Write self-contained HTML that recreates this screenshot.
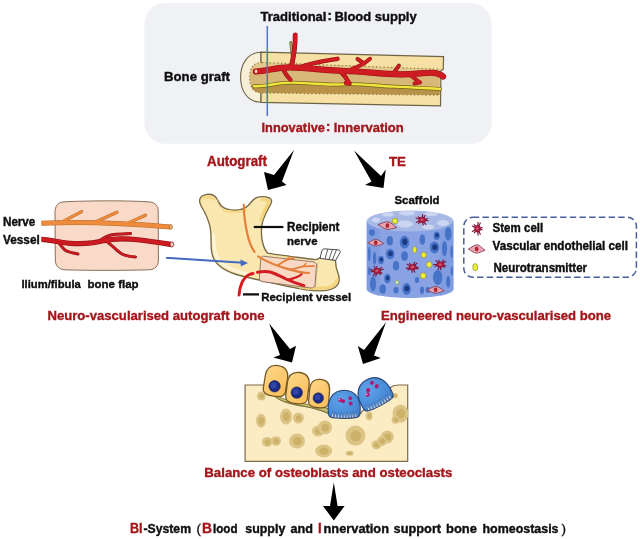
<!DOCTYPE html>
<html><head><meta charset="utf-8">
<style>
html,body{margin:0;padding:0;background:#fff;}
body{width:640px;height:539px;overflow:hidden;}
svg{display:block;}
text{font-family:"Liberation Sans",sans-serif;font-weight:bold;}
.k{fill:#0a0a0a;stroke:#0a0a0a;stroke-width:0.35px;}
.r{fill:#a4141a;stroke:#a4141a;stroke-width:0.35px;}
</style></head><body>
<svg width="640" height="539" viewBox="0 0 640 539">
<defs>
<filter id="soft" x="-5%" y="-5%" width="110%" height="110%"><feGaussianBlur stdDeviation="0.45"/></filter>
<filter id="sp" x="-30%" y="-30%" width="160%" height="160%"><feGaussianBlur stdDeviation="0.65"/></filter>
</defs>
<rect width="640" height="539" fill="#ffffff"/>
<!-- TOPBOX -->
<rect x="144.6" y="3" width="346.8" height="140.8" rx="21" ry="21" fill="#f0f1f5" stroke="#f6f6f9" stroke-width="1" filter="url(#soft)"/>
<g filter="url(#soft)">
<!-- TEXTS -->
<text class="k" x="260.5" y="20.5" font-size="13.45" textLength="66" lengthAdjust="spacingAndGlyphs">Traditional</text>
<text class="k" x="327.6" y="20" font-size="13">:</text>
<text class="k" x="334.4" y="20.5" font-size="13.39" textLength="82.3" lengthAdjust="spacingAndGlyphs">Blood supply</text>
<text class="k" x="164" y="80.5" font-size="13.60" textLength="66" lengthAdjust="spacingAndGlyphs">Bone graft</text>
<text class="r" x="261.5" y="131.8" font-size="13.23" textLength="63.5" lengthAdjust="spacingAndGlyphs">Innovative</text>
<text class="r" x="326" y="131.3" font-size="13">:</text>
<text class="r" x="333.7" y="131.8" font-size="13.38" textLength="70" lengthAdjust="spacingAndGlyphs">Innervation</text>
<text class="r" x="207" y="165.5" font-size="13.74" textLength="60" lengthAdjust="spacingAndGlyphs">Autograft</text>
<text class="r" x="389" y="165.5" font-size="13.70" textLength="17" lengthAdjust="spacingAndGlyphs">TE</text>
<text class="k" x="3" y="226.2" font-size="11.97" textLength="32.3" lengthAdjust="spacingAndGlyphs">Nerve</text>
<text class="k" x="3" y="244.4" font-size="12.17" textLength="36.8" lengthAdjust="spacingAndGlyphs">Vessel</text>
<text class="k" x="21.4" y="288.2" font-size="11.59" textLength="59.4" lengthAdjust="spacingAndGlyphs">Ilium/fibula</text>
<text class="k" x="87.6" y="288.2" font-size="11.82" textLength="51" lengthAdjust="spacingAndGlyphs">bone flap</text>
<text class="r" x="47.5" y="319.6" font-size="13.50" textLength="217" lengthAdjust="spacingAndGlyphs">Neuro-vascularised autograft bone</text>
<text class="k" x="287" y="231.2" font-size="12.01" textLength="52.5" lengthAdjust="spacingAndGlyphs">Recipient</text>
<text class="k" x="287" y="245" font-size="11.77" textLength="30.5" lengthAdjust="spacingAndGlyphs">nerve</text>
<text class="k" x="261.2" y="300.6" font-size="11.83" textLength="90" lengthAdjust="spacingAndGlyphs">Recipient vessel</text>
<text class="k" x="394.4" y="204.3" font-size="11.80" textLength="45.2" lengthAdjust="spacingAndGlyphs">Scaffold</text>
<text class="k" x="492.6" y="232" font-size="11.87" textLength="50.6" lengthAdjust="spacingAndGlyphs">Stem cell</text>
<text class="k" x="492.6" y="250.3" font-size="12.00" textLength="135.3" lengthAdjust="spacingAndGlyphs">Vascular endothelial cell</text>
<text class="k" x="493.5" y="272" font-size="11.88" textLength="93.6" lengthAdjust="spacingAndGlyphs">Neurotransmitter</text>
<text class="r" x="381" y="319.6" font-size="13.49" textLength="230" lengthAdjust="spacingAndGlyphs">Engineered neuro-vascularised bone</text>
<text class="r" x="204.3" y="477" font-size="13.64" textLength="248" lengthAdjust="spacingAndGlyphs">Balance of osteoblasts and osteoclasts</text>
<text class="r" x="130" y="533.3" font-size="15.00" textLength="12.5" lengthAdjust="spacingAndGlyphs">BI</text>
<text class="k" x="143.5" y="533" font-size="12.58" textLength="47.5" lengthAdjust="spacingAndGlyphs">-System</text>
<text class="k" x="196.5" y="532.5" font-size="13" font-weight="normal" style="font-weight:normal">(</text>
<text class="r" x="202" y="533.3" font-size="15.00" textLength="10" lengthAdjust="spacingAndGlyphs">B</text>
<text class="k" x="213" y="533" font-size="11.96" textLength="24.5" lengthAdjust="spacingAndGlyphs">lood</text>
<text class="k" x="245.3" y="533" font-size="12.79" textLength="40" lengthAdjust="spacingAndGlyphs">supply</text>
<text class="k" x="290.5" y="533" font-size="13.04" textLength="22.5" lengthAdjust="spacingAndGlyphs">and</text>
<text class="r" x="318" y="533.3" font-size="15.00" textLength="3.6" lengthAdjust="spacingAndGlyphs">I</text>
<text class="k" x="323.5" y="533" font-size="13.20" textLength="65.5" lengthAdjust="spacingAndGlyphs">nnervation</text>
<text class="k" x="393.6" y="533" font-size="13.15" textLength="47.5" lengthAdjust="spacingAndGlyphs">support</text>
<text class="k" x="446" y="533" font-size="13.37" textLength="31" lengthAdjust="spacingAndGlyphs">bone</text>
<text class="k" x="482.5" y="533" font-size="12.81" textLength="76" lengthAdjust="spacingAndGlyphs">homeostasis</text>
<text class="k" x="561.5" y="533" font-size="13.5" style="font-weight:normal">)</text>
</g>
<!-- ARROWS -->
<g fill="#050505" filter="url(#soft)">
<path d="M294,150 L274,175 L264,172 L268,190 L286.5,185 L282,181.5 Z"/>
<path d="M354,150.5 L381,176 L385.7,169.5 L383.5,188 L365,185 L371.5,181.5 Z"/>
<path d="M269.2,323.5 L290,349 L296,345.8 L292,362.5 L273.4,357.5 L280,355 Z"/>
<path d="M386,322.3 L364,350 L357.8,346 L363,364 L380.8,358 L374,355.6 Z"/>
<path d="M333.8,482.5 L337.6,506 L344.6,506 L333.8,520.5 L323,506 L330,506 Z"/>
</g>
<!-- BONEGRAFT -->
<g filter="url(#soft)">
<!-- outer cap -->
<path d="M261,52.2 C246,52.5 240.6,66 240.6,77.5 C240.6,90 247,102 261,102.3 Z" fill="#f8efd8" stroke="#6e6446" stroke-width="1.1"/>
<!-- shell rectangle -->
<path d="M261,52.2 L443.6,56.6 L443.2,69.5 L441,70.5 L440.5,105.8 L261,102.3 Z" fill="#f6e0a4" stroke="#6e6446" stroke-width="1.2"/>
<!-- marrow -->
<path d="M262,62.5 C252,62.5 249.5,70 249.5,77.5 C249.5,86 253,92.5 262,92.8 L439.5,95 L440,69.2 Z" fill="#d8b878"/>
<path d="M262,84 C300,80 340,86 380,86 L440,89 L439.5,95 L262,92.8 C255,92.8 252,90 251,86 Z" fill="#b8924a"/>
<path d="M262,62.5 L440,69.2 L440,73 C400,70 340,69 300,70 C280,71 262,69 253,68 C255,64 258,62.5 262,62.5Z" fill="#e3c88d"/>
<!-- speckle edges -->
<path d="M262,62.5 L440,69.2" stroke="#8a7540" stroke-width="1.2" stroke-dasharray="1.2 2.6" fill="none"/>
<path d="M262,93 L439.5,95.2" stroke="#8a7540" stroke-width="1.2" stroke-dasharray="1.2 2.6" fill="none"/>
<path d="M262,62.5 C252,62.5 249.5,70 249.5,77.5 C249.5,86 253,92.5 262,92.8" stroke="#8a7540" stroke-width="1.2" stroke-dasharray="1 2.4" fill="none"/>
<!-- olive vein -->
<path d="M290.8,42.5 C291.6,50 292.2,56 293.2,63" stroke="#6e6438" stroke-width="3" fill="none" stroke-linecap="round"/><path d="M290.8,42.5 C291.6,50 292.2,56 293.2,63" stroke="#a89a62" stroke-width="1.8" fill="none" stroke-linecap="round"/>
<!-- yellow nerve -->
<path d="M254,86.2 C268,87 275,82.6 290,82.6 C310,82.8 330,85.2 343,84.4 C360,83 375,86 395,86.6 C410,87 428,88.5 440,89" stroke="#6e6418" stroke-width="3.8" fill="none" stroke-linecap="round"/>
<path d="M254,86.2 C268,87 275,82.6 290,82.6 C310,82.8 330,85.2 343,84.4 C360,83 375,86 395,86.6 C410,87 428,88.5 440,89" stroke="#f3e53c" stroke-width="2.4" fill="none" stroke-linecap="round"/>
<!-- red vessels -->
<g fill="none" stroke-linecap="round" stroke-linejoin="round">
<path d="M256,71.5 C268,71 276,67.2 290,67.4 C310,68 325,70.5 345,71 C365,71.5 380,74 400,74.3 C415,74.6 425,72.2 433,72.8 C438,73.2 441,74.6 443,76.5" stroke="#8f1216" stroke-width="6.2"/>
<path d="M291.5,66 C294,55 295.4,45 295.2,34.8" stroke="#8f1216" stroke-width="4.8"/>
<path d="M300,67.5 C310,62.8 322,61.5 337.5,58.8" stroke="#8f1216" stroke-width="4.4"/>
<path d="M283.5,70 C285.5,74 288,77.5 290.5,79.8" stroke="#8f1216" stroke-width="4.2"/>
<path d="M352,69 C358,67.2 362,64.2 365,62.8 L370,58.8 M364,63.5 L357.5,59" stroke="#8f1216" stroke-width="4.0"/>
<path d="M394,72.5 C396,69.5 397.5,67.5 399,65.5" stroke="#8f1216" stroke-width="3.8"/>
<path d="M341,71.5 C344,75 347,79 349.5,83.5 M349.5,83.5 L346,83" stroke="#8f1216" stroke-width="4.4"/>
<path d="M411,75.5 C414,78 417,80.5 420,82.5 M419,82.5 L414.5,83.5" stroke="#8f1216" stroke-width="4.0"/>
<path d="M338,70 C342,73 344,75 346,78" stroke="#8f1216" stroke-width="4.0"/>
<path d="M256,71.5 C268,71 276,67.2 290,67.4 C310,68 325,70.5 345,71 C365,71.5 380,74 400,74.3 C415,74.6 425,72.2 433,72.8 C438,73.2 441,74.6 443,76.5" stroke="#cf1b22" stroke-width="5.2"/>
<path d="M291.5,66 C294,55 295.4,45 295.2,34.8" stroke="#cf1b22" stroke-width="3.8"/>
<path d="M300,67.5 C310,62.8 322,61.5 337.5,58.8" stroke="#cf1b22" stroke-width="3.4"/>
<path d="M283.5,70 C285.5,74 288,77.5 290.5,79.8" stroke="#cf1b22" stroke-width="3.2"/>
<path d="M352,69 C358,67.2 362,64.2 365,62.8 L370,58.8 M364,63.5 L357.5,59" stroke="#cf1b22" stroke-width="3.0"/>
<path d="M394,72.5 C396,69.5 397.5,67.5 399,65.5" stroke="#cf1b22" stroke-width="2.8"/>
<path d="M341,71.5 C344,75 347,79 349.5,83.5 M349.5,83.5 L346,83" stroke="#cf1b22" stroke-width="3.4"/>
<path d="M411,75.5 C414,78 417,80.5 420,82.5 M419,82.5 L414.5,83.5" stroke="#cf1b22" stroke-width="3.0"/>
<path d="M338,70 C342,73 344,75 346,78" stroke="#cf1b22" stroke-width="3.0"/>
</g>
<ellipse cx="256" cy="71.4" rx="1.3" ry="1.8" fill="#f8d9c8"/>
<!-- blue line -->
<line x1="267.3" y1="26" x2="267.3" y2="116" stroke="#4a78c8" stroke-width="1.5"/>
</g>
<!-- FLAP -->
<g filter="url(#soft)">
<path d="M64,201.8 C90,200.6 130,200.4 150,202 C155.5,202.6 158.2,206 158.2,211 L158.4,260 C158.4,266 155,269.6 149,269.8 C120,270.6 90,270.6 65,269.8 C59,269.6 55.4,266 55.3,260 L55,212 C55,206 58,202.2 64,201.8 Z" fill="#f9dac8" stroke="#8a6e5a" stroke-width="1"/>
<!-- nerve -->
<g fill="none" stroke-linecap="round">
<path d="M64,220.8 L81.6,211.6 M97,221.2 L117,212.2 M129.5,222.4 L145.5,215.2" stroke="#b56a2a" stroke-width="3.2"/>
<path d="M41.5,223.2 C80,221.5 120,222.5 170,227" stroke="#b56a2a" stroke-width="5" stroke-linecap="butt"/>
<path d="M64,220.8 L81.6,211.6 M97,221.2 L117,212.2 M129.5,222.4 L145.5,215.2" stroke="#ee8b3c" stroke-width="2.3"/>
<path d="M41.5,223.2 C80,221.5 120,222.5 170,227" stroke="#ee8b3c" stroke-width="4" stroke-linecap="butt"/>
</g>
<ellipse cx="170.8" cy="227" rx="1.6" ry="2.4" fill="#f3b27a" stroke="#9a5a24" stroke-width="0.7"/>
<!-- vessel -->
<g fill="none" stroke-linecap="round" stroke-linejoin="round">
<path d="M41.5,239.3 C50,239.6 58,242.5 70,243.3 C85,244.2 95,243.2 104,240.6 C115,238 128,238.6 140,240 C152,241.4 162,243 171,244.4" stroke="#8f1216" stroke-width="5.2" stroke-linecap="butt"/>
<path d="M100,240.5 C104,237.5 108,235.4 112,234.8 C118,234 124,234.2 130.5,233.6" stroke="#8f1216" stroke-width="3"/>
<path d="M59,242.8 C62,247 64,250 67,251.2 C70,252.6 74,253.4 78,254" stroke="#8f1216" stroke-width="3"/>
<path d="M108,242.5 C113,246 117,251 122,254 C126,256 130,256.6 135.5,257" stroke="#8f1216" stroke-width="3"/>
<path d="M41.5,239.3 C50,239.6 58,242.5 70,243.3 C85,244.2 95,243.2 104,240.6 C115,238 128,238.6 140,240 C152,241.4 162,243 171,244.4" stroke="#cc1a20" stroke-width="4" stroke-linecap="butt"/>
<path d="M100,240.5 C104,237.5 108,235.4 112,234.8 C118,234 124,234.2 130.5,233.6" stroke="#cc1a20" stroke-width="2"/>
<path d="M59,242.8 C62,247 64,250 67,251.2 C70,252.6 74,253.4 78,254" stroke="#cc1a20" stroke-width="2"/>
<path d="M108,242.5 C113,246 117,251 122,254 C126,256 130,256.6 135.5,257" stroke="#cc1a20" stroke-width="2"/>
</g>
<ellipse cx="171.8" cy="244.4" rx="1.8" ry="2.6" fill="#f6d6c6" stroke="#7c1013" stroke-width="0.8"/>
</g>
<!-- JAW -->
<g filter="url(#soft)">
<path d="M199.6,200.5 C199.8,197.5 202,195.6 205,194.8 C209,193.8 213.5,194.6 216,197.5 C218,200 219,203.5 221.5,206 C225,209.2 230,210.2 235,210.2 C240,210.2 245,208.6 248.5,205.2 C251.5,202 253,199 256.5,197.6 C260,196.4 266,196.6 269.5,198 C272,199.2 272,201.5 270.8,204 C267.5,210 264,216 262.5,222 C261,228.5 261.2,236 262.5,242 C263.5,246.5 265,250.5 267.8,253.2 C275,254.6 283,255.4 290,256.3 C298,257.4 308,259 315,259.6 C317.5,259.6 319,258.6 320.5,257.2 L335.5,260.4 C335.6,264 336,268 337.6,272 C339,275.5 340,279 338.6,283 C337,286.8 333,289 328,290.2 C323,291.2 312,290.6 306,289.8 C294,287.8 278,284.6 265,281.4 C255,279 246,277.4 238,275 C230,272.8 223,269.6 218,264.6 C214,260.6 212,256 211.4,250 C210.8,243 211.4,236 210.4,229 C209.4,222 207,217 204.5,212 C202.5,208 199.5,204.5 199.6,200.5 Z" fill="#fbe7b0" stroke="#786a42" stroke-width="1.35"/>
<!-- subtle shading -->
<path d="M213.6,234 C213.6,246 214.4,255 219.5,261.2 C225,267.4 236,271.3 250,274.8" stroke="#fdf4da" stroke-width="3" fill="none" stroke-linecap="round"/>
<g filter="url(#sp)" fill="none" stroke-linecap="round">
<path d="M262,199.5 C266,199.5 269,200.5 268.5,203 C266,208 262.5,214 261,220" stroke="#f5d57c" stroke-width="3.2"/>
<path d="M203,198 C206,196.6 211,196.8 214,199.5" stroke="#f6da88" stroke-width="3"/>
<path d="M224,210.5 C230,212.6 240,212.6 246,210" stroke="#f6da88" stroke-width="2.4"/>
<path d="M300,287 C310,288.4 320,288.6 328,287.4 C333,286.4 336,283.6 337,280" stroke="#f5d57c" stroke-width="3"/>
</g>
<path d="M217,198.5 C218,203 219,206 222,208.5" stroke="#c8b682" stroke-width="0.8" fill="none"/>
<path d="M318,262.5 C317,270 316,279 315.5,287.5" stroke="#c8b682" stroke-width="0.9" fill="none"/>
<!-- teeth -->
<g fill="#ffffff" stroke="#4a4a4a" stroke-width="1" stroke-linejoin="round">
<path d="M320,258.4 L321.8,251 C322.2,249.4 323.4,248.8 325,248.9 L338,249.8 C339.8,250 340.6,251 340.2,252.4 L335.6,260.4 Z"/>
<path d="M327.8,249.2 L325,258.9 M332.4,249.6 L329,259.4 M336.4,249.9 L332.4,259.9" fill="none" stroke-width="0.9"/>
</g>
<!-- flap -->
<path d="M263.5,256.2 L313,261.8 C315.6,262.2 316.6,263.6 316.4,266 L315,284.6 C314.8,287 313.2,288.2 310.8,288 L262,281.6 C260,281.2 259.2,279.8 259.4,277.8 L260.8,258.4 C261,256.8 262,256 263.5,256.2 Z" fill="#f9d8c6" fill-opacity="0.92" stroke="#8a6e5a" stroke-width="0.9"/>
<!-- nerve -->
<g fill="none" stroke="#e5803a" stroke-linecap="round" stroke-linejoin="round">
<path d="M243.8,204.8 C243.8,215 245.5,226 247.6,235 C249,241.5 251,247 254.5,251.8" stroke-width="2.2"/>
<path d="M258,256.4 C263,259.6 268,262 273,264 C281,267.2 290,270 298,271.6 C302,272.4 305.5,272.8 309,273" stroke-width="2.2"/>
<path d="M277.5,265.4 C281,263 284,261 287,259.8 C289.5,258.8 292,258.4 294,258" stroke-width="1.8"/>
<path d="M290,269.6 C295,268.6 300,267 304,266.4 C307.5,266 311,266 314,266.2" stroke-width="1.8"/>
<path d="M286.5,260.2 L289,256.8 M303,266.6 L306,263.6" stroke-width="1.4"/>
</g>
<!-- vessel -->
<g fill="none" stroke="#d41b22" stroke-linecap="round" stroke-linejoin="round">
<path d="M239,295 C239.4,290 240.2,286.5 241.8,283 C243.6,279 246,276.4 249,274.8 C250.5,274 251.8,273.6 253,273.4" stroke-width="3"/>
<path d="M257.5,272.2 C262,271.4 267,271.2 271,272.2 C276,273.6 281,276.6 286,279 C292,281.8 298,284 304,285.6" stroke-width="3"/>
<path d="M288.5,279.6 C292,279 295,278 297.5,276.8 C299.5,275.8 300.6,275 301.5,274.2" stroke-width="2.2"/>
</g>
<!-- label lines -->
<path d="M253.8,227 L283.4,227" stroke="#0a0a0a" stroke-width="2.2"/>
<path d="M243,294.4 L259,294.4" stroke="#0a0a0a" stroke-width="2.2"/>
</g>
<!-- blue arrow -->
<g filter="url(#soft)">
<path d="M165.9,257.8 L243,262.7" stroke="#4468c0" stroke-width="1.9" fill="none"/>
<path d="M240.4,259.6 L248,263 L240.8,266.4 Z" fill="#4468c0"/>
</g>
<!-- SCAFFOLD -->
<g filter="url(#soft)">
<path d="M366.7,221 L366.7,289 C366.7,294 386,298 410,298 C434,298 453.5,294 453.5,289 L453.5,221 Z" fill="#88a2e4"/>
<path d="M366.7,221 L366.7,289 C366.7,292 372,294.5 380,296 L380,231 Z" fill="#7896de" opacity="0.5"/>
<path d="M453.5,221 L453.5,289 C453.5,292 448,294.5 440,296 L440,231 Z" fill="#7896de" opacity="0.45"/>
<ellipse cx="372.0" cy="232.6" rx="3.0" ry="3.4" fill="#4673c9"/>
<ellipse cx="389.8" cy="240.7" rx="3.2" ry="4.7" fill="#4673c9"/>
<ellipse cx="404.5" cy="242.2" rx="4.7" ry="6.4" fill="#4673c9"/><ellipse cx="404.8" cy="241.8" rx="2.6" ry="3.2" fill="#1f3a80"/>
<ellipse cx="422.4" cy="239.5" rx="2.8" ry="5.3" fill="#4673c9"/>
<ellipse cx="436.7" cy="235.8" rx="3.2" ry="4.3" fill="#4673c9"/><ellipse cx="437.0" cy="235.4" rx="1.8" ry="2.1" fill="#1f3a80"/>
<ellipse cx="448.2" cy="233.7" rx="3.4" ry="6.8" fill="#4673c9"/>
<ellipse cx="434.5" cy="247.6" rx="4.7" ry="6.0" fill="#4673c9"/><ellipse cx="434.8" cy="247.2" rx="2.6" ry="3.0" fill="#1f3a80"/>
<ellipse cx="444.5" cy="248.6" rx="2.6" ry="7.5" fill="#4673c9"/>
<ellipse cx="451.6" cy="251.8" rx="1.2" ry="6.4" fill="#4673c9"/>
<ellipse cx="369.3" cy="254.0" rx="1.3" ry="7.5" fill="#4673c9"/>
<ellipse cx="374.6" cy="258.2" rx="1.7" ry="6.4" fill="#4673c9"/>
<ellipse cx="381.0" cy="260.0" rx="3.0" ry="4.3" fill="#4673c9"/><ellipse cx="381.3" cy="259.6" rx="1.7" ry="2.1" fill="#1f3a80"/>
<ellipse cx="390.2" cy="254.0" rx="4.3" ry="5.3" fill="#4673c9"/><ellipse cx="390.5" cy="253.6" rx="2.4" ry="2.6" fill="#1f3a80"/>
<ellipse cx="404.5" cy="256.0" rx="3.4" ry="4.7" fill="#4673c9"/>
<ellipse cx="396.0" cy="265.7" rx="3.2" ry="4.7" fill="#4673c9"/>
<ellipse cx="369.3" cy="271.0" rx="1.3" ry="4.3" fill="#4673c9"/>
<ellipse cx="373.0" cy="283.8" rx="3.0" ry="7.5" fill="#4673c9"/>
<ellipse cx="382.7" cy="289.0" rx="3.2" ry="4.7" fill="#4673c9"/>
<ellipse cx="387.4" cy="278.5" rx="3.2" ry="4.7" fill="#4673c9"/><ellipse cx="387.7" cy="278.1" rx="1.8" ry="2.4" fill="#1f3a80"/>
<ellipse cx="396.0" cy="290.2" rx="2.6" ry="3.2" fill="#4673c9"/>
<ellipse cx="406.6" cy="289.0" rx="4.3" ry="6.0" fill="#4673c9"/><ellipse cx="406.9" cy="288.6" rx="2.4" ry="3.0" fill="#1f3a80"/>
<ellipse cx="422.0" cy="290.2" rx="2.1" ry="3.8" fill="#4673c9"/>
<ellipse cx="437.7" cy="277.4" rx="4.7" ry="7.5" fill="#4673c9"/>
<ellipse cx="448.2" cy="281.7" rx="2.1" ry="6.0" fill="#4673c9"/>
<ellipse cx="451.8" cy="271.0" rx="1.1" ry="4.7" fill="#4673c9"/>
<ellipse cx="417.0" cy="280.0" rx="2.2" ry="3.0" fill="#4673c9"/>
<ellipse cx="428.0" cy="290.0" rx="2.4" ry="3.0" fill="#4673c9"/>
<ellipse cx="410.1" cy="221" rx="43.4" ry="10.6" fill="#a9b9e6"/>
<g fill="#d0d9f2" opacity="0.9">
<ellipse cx="376" cy="220" rx="4" ry="2.6"/><ellipse cx="388" cy="214.5" rx="6" ry="2"/><ellipse cx="407" cy="213" rx="8" ry="2.4"/>
<ellipse cx="405" cy="224" rx="8" ry="3.6"/><ellipse cx="431" cy="214" rx="7" ry="2"/><ellipse cx="443" cy="223" rx="6" ry="3"/><ellipse cx="428" cy="227" rx="6" ry="2.4"/>
</g>
<ellipse cx="414.7" cy="249.7" rx="1.9" ry="3.2" fill="#f2ee3a" stroke="#8c8a20" stroke-width="0.6"/>
<ellipse cx="423.7" cy="255.0" rx="2.6" ry="2.8" fill="#f2ee3a" stroke="#8c8a20" stroke-width="0.6"/>
<ellipse cx="429.2" cy="264.6" rx="2.8" ry="2.9" fill="#f2ee3a" stroke="#8c8a20" stroke-width="0.6"/>
<ellipse cx="423.2" cy="275.7" rx="2.8" ry="3.0" fill="#f2ee3a" stroke="#8c8a20" stroke-width="0.6"/>
<ellipse cx="394.9" cy="221" rx="2.8" ry="2.8" fill="#e4ee3a" stroke="#8c8a20" stroke-width="0.6"/>
<ellipse cx="397" cy="282.3" rx="1.7" ry="2" fill="#d8eea0" stroke="#6c8a50" stroke-width="0.5"/>
<path d="M424.5,220.2 L427.8,220.6 M423.5,221.4 L425.8,224.3 M422.6,221.7 L423.3,225.0 M420.7,221.3 L418.6,223.4 M420.1,220.7 L416.3,222.3 M420.0,219.2 L416.0,218.0 M420.6,218.6 L418.2,216.8 M422.3,218.1 L422.6,214.7 M423.2,218.3 L425.2,215.3 M424.4,219.4 L427.7,218.8 " stroke="#7c1432" stroke-width="1.15" stroke-linecap="round" fill="none"/><ellipse cx="422.2" cy="219.9" rx="3.7" ry="2.8" fill="#ae1f3e" stroke="#7c1432" stroke-width="0.5"/><ellipse cx="422.0" cy="219.7" rx="1.5" ry="1.0" fill="#d4627c"/>
<path d="M414.7,267.9 L417.8,268.9 M413.3,268.9 L414.7,272.1 M412.4,269.0 L412.0,272.4 M410.7,268.3 L408.0,269.9 M410.3,267.6 L406.2,268.4 M410.7,266.1 L407.2,264.2 M411.4,265.6 L409.7,263.4 M413.3,265.5 L414.6,262.2 M414.1,265.8 L416.9,263.3 M414.9,267.2 L418.3,267.2 " stroke="#7c1432" stroke-width="1.15" stroke-linecap="round" fill="none"/><ellipse cx="412.6" cy="267.2" rx="3.7" ry="2.8" fill="#ae1f3e" stroke="#7c1432" stroke-width="0.5"/><ellipse cx="412.4" cy="267.0" rx="1.5" ry="1.0" fill="#d4627c"/>
<path d="M442.1,265.7 L444.8,267.3 M440.5,266.4 L440.8,269.8 M439.5,266.3 L438.1,269.5 M438.2,265.3 L435.0,266.3 M438.0,264.6 L433.7,264.5 M438.8,263.2 L436.0,260.6 M439.6,262.9 L438.7,260.3 M441.5,263.1 L443.8,260.2 M442.2,263.6 L445.7,261.6 M442.5,265.0 L445.8,265.7 " stroke="#7c1432" stroke-width="1.15" stroke-linecap="round" fill="none"/><ellipse cx="440.3" cy="264.6" rx="3.7" ry="2.8" fill="#ae1f3e" stroke="#7c1432" stroke-width="0.5"/><ellipse cx="440.1" cy="264.4" rx="1.5" ry="1.0" fill="#d4627c"/>
<path d="M378.4,272.4 L380.5,274.5 M376.6,272.8 L375.8,276.1 M375.7,272.5 L373.4,275.3 M374.7,271.2 L371.4,271.6 M374.8,270.5 L370.6,269.6 M376.0,269.4 L374.1,266.3 M376.9,269.2 L376.8,266.5 M378.7,269.7 L381.8,267.4 M379.2,270.4 L383.2,269.2 M379.0,271.9 L382.0,273.1 " stroke="#7c1432" stroke-width="1.15" stroke-linecap="round" fill="none"/><ellipse cx="377.0" cy="271.0" rx="3.7" ry="2.8" fill="#ae1f3e" stroke="#7c1432" stroke-width="0.5"/><ellipse cx="376.8" cy="270.8" rx="1.5" ry="1.0" fill="#d4627c"/>
<g transform="rotate(6.0 387.4 225.6)"><path d="M377.9,225.6 C382.2,223.9 384.5,221.8 387.4,221.8 C390.7,221.8 393.1,224.5 396.9,226.7 C393.1,227.8 390.2,229.3 387.4,229.3 C384.5,229.3 381.7,227.5 377.9,225.6 Z" fill="#e8a4b0" stroke="#7e3450" stroke-width="0.8"/><ellipse cx="387.4" cy="225.6" rx="1.5" ry="2" fill="#c81e2a" stroke="#6e0f18" stroke-width="0.5"/></g>
<g transform="rotate(0.0 375.7 242.7)"><path d="M367.7,242.7 C371.3,241.2 373.3,239.4 375.7,239.4 C378.5,239.4 380.5,241.7 383.7,243.7 C380.5,244.6 378.1,245.9 375.7,245.9 C373.3,245.9 370.9,244.3 367.7,242.7 Z" fill="#e8a4b0" stroke="#7e3450" stroke-width="0.8"/><ellipse cx="375.7" cy="242.7" rx="1.5" ry="2" fill="#c81e2a" stroke="#6e0f18" stroke-width="0.5"/></g>
<g transform="rotate(0.0 435.6 289.8)"><path d="M427.1,289.8 C430.9,288.3 433.1,286.4 435.6,286.4 C438.6,286.4 440.7,288.8 444.1,290.8 C440.7,291.8 438.2,293.2 435.6,293.2 C433.1,293.2 430.5,291.5 427.1,289.8 Z" fill="#e8a4b0" stroke="#7e3450" stroke-width="0.8"/><ellipse cx="435.6" cy="289.8" rx="1.5" ry="2" fill="#c81e2a" stroke="#6e0f18" stroke-width="0.5"/></g>
</g>
<!-- LEGEND -->
<g filter="url(#soft)">
<rect x="463.8" y="217.2" width="172.6" height="60" rx="9" ry="9" fill="none" stroke="#485c9c" stroke-width="1.5" stroke-dasharray="6.4 3.3"/>
<path d="M479.4,229.1 L482.2,229.8 M478.5,230.6 L480.3,234.2 M477.7,230.9 L478.1,235.1 M476.2,230.4 L474.3,232.8 M475.7,229.6 L472.4,231.4 M475.7,227.8 L472.4,226.1 M476.2,227.0 L474.2,224.6 M477.7,226.5 L478.1,222.3 M478.5,226.7 L480.3,223.1 M479.4,228.2 L482.2,227.6 " stroke="#7c1432" stroke-width="1.15" stroke-linecap="round" fill="none"/><ellipse cx="477.5" cy="228.7" rx="3.1" ry="3.5" fill="#ae1f3e" stroke="#7c1432" stroke-width="0.5"/><ellipse cx="477.3" cy="228.5" rx="1.2" ry="1.3" fill="#d4627c"/>
<g transform="rotate(0.0 476.7 249.0)"><path d="M468.3,249.0 C472.1,247.1 474.2,244.8 476.7,244.8 C479.6,244.8 481.7,247.7 485.1,250.3 C481.7,251.5 479.2,253.2 476.7,253.2 C474.2,253.2 471.7,251.1 468.3,249.0 Z" fill="#e8a4b0" stroke="#7e3450" stroke-width="0.8"/><ellipse cx="476.7" cy="249.0" rx="1.5" ry="2" fill="#c81e2a" stroke="#6e0f18" stroke-width="0.5"/></g>
<ellipse cx="475.2" cy="267.2" rx="2.5" ry="3.7" fill="#e6ee3a" stroke="#8c8a20" stroke-width="0.6"/>
</g>
<!-- BLOCK -->
<defs>
<linearGradient id="ob" x1="0" y1="0" x2="1" y2="1"><stop offset="0" stop-color="#fdd88c"/><stop offset="1" stop-color="#f9bd55"/></linearGradient>
<radialGradient id="oc" cx="0.4" cy="0.35" r="0.75"><stop offset="0" stop-color="#5fa4ea"/><stop offset="1" stop-color="#3f80d0"/></radialGradient>

</defs>
<g filter="url(#soft)">
<path d="M245.1,385 L264.2,385 C269,390 273,395.5 278,398.4 C283,401.4 288,403 294,404.4 C301,406 308,407 314,408.4 C320,410 325,412 329,413.6 C333,416 337,417.6 341,418 C347,418.6 353,418 357,416.6 C359.5,415 361,412.6 363,410.4 C366,408.4 371,406 376,403.4 C381,400.6 385.5,395 389.2,388.2 C392,386 395,385 398,385 L407.7,385 L407.7,461.4 L245.1,461.4 Z" fill="#fcecc4" stroke="#7c6c46" stroke-width="1.2" stroke-linejoin="miter"/>
<g filter="url(#sp)">
<ellipse cx="261.3" cy="396.0" rx="4.5" ry="4.5" fill="#dcc486"/><ellipse cx="261.6" cy="396.2" rx="2.5" ry="2.5" fill="#c9ae64" opacity="0.85"/>
<ellipse cx="261.0" cy="420.8" rx="5.0" ry="7.0" fill="#dcc486"/><ellipse cx="261.3" cy="421.0" rx="2.8" ry="3.9" fill="#c9ae64" opacity="0.85"/>
<ellipse cx="286.0" cy="416.5" rx="6.0" ry="8.0" fill="#dcc486"/><ellipse cx="286.3" cy="416.7" rx="3.3" ry="4.4" fill="#c9ae64" opacity="0.85"/>
<ellipse cx="298.4" cy="418.0" rx="5.5" ry="5.5" fill="#dcc486"/><ellipse cx="298.7" cy="418.2" rx="3.0" ry="3.0" fill="#c9ae64" opacity="0.85"/>
<ellipse cx="267.2" cy="441.9" rx="5.2" ry="5.0" fill="#dcc486"/><ellipse cx="267.5" cy="442.1" rx="2.9" ry="2.8" fill="#c9ae64" opacity="0.85"/>
<ellipse cx="276.0" cy="441.0" rx="5.0" ry="4.8" fill="#dcc486"/><ellipse cx="276.3" cy="441.2" rx="2.8" ry="2.6" fill="#c9ae64" opacity="0.85"/>
<ellipse cx="297.0" cy="441.0" rx="8.0" ry="7.5" fill="#dcc486"/><ellipse cx="297.3" cy="441.2" rx="4.4" ry="4.1" fill="#c9ae64" opacity="0.85"/>
<ellipse cx="318.0" cy="431.0" rx="6.0" ry="5.5" fill="#dcc486"/><ellipse cx="318.3" cy="431.2" rx="3.3" ry="3.0" fill="#c9ae64" opacity="0.85"/>
<ellipse cx="325.0" cy="427.5" rx="7.0" ry="7.0" fill="#dcc486"/><ellipse cx="325.3" cy="427.7" rx="3.9" ry="3.9" fill="#c9ae64" opacity="0.85"/>
<ellipse cx="323.7" cy="451.0" rx="8.5" ry="6.5" fill="#dcc486"/><ellipse cx="324.0" cy="451.2" rx="4.7" ry="3.6" fill="#c9ae64" opacity="0.85"/>
<ellipse cx="395.0" cy="395.7" rx="3.0" ry="2.6" fill="#dcc486"/><ellipse cx="395.3" cy="395.9" rx="1.7" ry="1.4" fill="#c9ae64" opacity="0.85"/>
<ellipse cx="369.1" cy="416.0" rx="3.4" ry="4.4" fill="#dcc486"/><ellipse cx="369.4" cy="416.2" rx="1.9" ry="2.4" fill="#c9ae64" opacity="0.85"/>
<ellipse cx="400.5" cy="413.6" rx="8.0" ry="9.0" fill="#dcc486"/><ellipse cx="400.8" cy="413.8" rx="4.4" ry="5.0" fill="#c9ae64" opacity="0.85"/>
<ellipse cx="395.6" cy="419.8" rx="4.0" ry="4.0" fill="#dcc486"/><ellipse cx="395.9" cy="420.0" rx="2.2" ry="2.2" fill="#c9ae64" opacity="0.85"/>
<ellipse cx="355.5" cy="435.6" rx="10.0" ry="10.0" fill="#dcc486"/><ellipse cx="355.8" cy="435.8" rx="5.5" ry="5.5" fill="#c9ae64" opacity="0.85"/>
<ellipse cx="387.3" cy="437.0" rx="6.5" ry="6.5" fill="#dcc486"/><ellipse cx="387.6" cy="437.2" rx="3.6" ry="3.6" fill="#c9ae64" opacity="0.85"/>
<ellipse cx="376.5" cy="444.8" rx="5.0" ry="4.6" fill="#dcc486"/><ellipse cx="376.8" cy="445.0" rx="2.8" ry="2.5" fill="#c9ae64" opacity="0.85"/>
<ellipse cx="382.0" cy="441.0" rx="5.0" ry="5.0" fill="#dcc486"/><ellipse cx="382.3" cy="441.2" rx="2.8" ry="2.8" fill="#c9ae64" opacity="0.85"/>
<ellipse cx="349.6" cy="453.2" rx="4.0" ry="2.5" fill="#dcc486"/><ellipse cx="349.9" cy="453.4" rx="2.2" ry="1.4" fill="#c9ae64" opacity="0.85"/>
</g>
<!-- olive lining -->
<path d="M266,387.5 C270,392.5 274,396.5 279,399.2 C285,402.4 292,404 300,405.4 C310,407 320,409.4 329,413.4 L329.5,409 C320,406 310,404.6 302,403.4 C292,401.8 284,399.6 278,396 C273,393 269,389 266,386 Z" fill="#c8c070" stroke="#7c7436" stroke-width="0.9"/>
<path d="M329,402 L329,413.6 C333,416 337,417.6 341,418 L341,414 Z" fill="#c8c070"/>
<g transform="rotate(9.0 275.8 380.9)"><path d="M264.6,377.2 C264.6,369.1 269.1,365.4 275.8,365.4 C282.5,365.4 287.0,369.1 287.0,377.2 L287.0,390.2 C287.0,394.8 283.6,396.4 275.8,396.4 C268.0,396.4 264.6,394.8 264.6,390.2 Z" fill="url(#ob)" stroke="#765a26" stroke-width="1.3"/></g><circle cx="274.6" cy="386.3" r="5.7" fill="#1d2c86" stroke="#141c50" stroke-width="0.6"/><circle cx="273.7" cy="385.4" r="3.1" fill="#2e44a4"/>
<g transform="rotate(7.0 297.7 388.1)"><path d="M286.8,384.3 C286.8,376.2 291.2,372.4 297.7,372.4 C304.2,372.4 308.6,376.2 308.6,384.3 L308.6,397.5 C308.6,402.2 305.3,403.8 297.7,403.8 C290.1,403.8 286.8,402.2 286.8,397.5 Z" fill="url(#ob)" stroke="#765a26" stroke-width="1.3"/></g><circle cx="296.8" cy="392.6" r="5.7" fill="#1d2c86" stroke="#141c50" stroke-width="0.6"/><circle cx="295.9" cy="391.7" r="3.1" fill="#2e44a4"/>
<g transform="rotate(5.0 319.3 393.6)"><path d="M309.3,390.2 C309.3,382.8 313.3,379.4 319.3,379.4 C325.3,379.4 329.3,382.8 329.3,390.2 L329.3,402.1 C329.3,406.4 326.3,407.8 319.3,407.8 C312.3,407.8 309.3,406.4 309.3,402.1 Z" fill="url(#ob)" stroke="#765a26" stroke-width="1.3"/></g><circle cx="318.3" cy="398.0" r="5.2" fill="#1d2c86" stroke="#141c50" stroke-width="0.6"/><circle cx="317.5" cy="397.2" r="2.9" fill="#2e44a4"/>
<g transform="translate(344.2 404.2) rotate(0.0) scale(1.000)"><path d="M-15.9,8 C-17,-4 -12,-14 0,-14 C12,-14 17,-4 15.9,8 C15.9,11 15,12.4 13.4,12.9 C8,14.4 -8,14.4 -13.4,12.9 C-15,12.4 -15.9,11 -15.9,8 Z" fill="url(#oc)" stroke="#2a4678" stroke-width="1.1"/><path d="M-12.50,12.82 L-11.60,7.22 L-10.70,12.82 Z M-9.60,13.29 L-8.70,7.69 L-7.80,13.29 Z M-6.70,13.63 L-5.80,8.03 L-4.90,13.63 Z M-3.80,13.83 L-2.90,8.23 L-2.00,13.83 Z M-0.90,13.90 L0.00,8.30 L0.90,13.90 Z M2.00,13.83 L2.90,8.23 L3.80,13.83 Z M4.90,13.63 L5.80,8.03 L6.70,13.63 Z M7.80,13.29 L8.70,7.69 L9.60,13.29 Z M10.70,12.82 L11.60,7.22 L12.50,12.82 Z " fill="#f4f6fa" stroke="#2a4678" stroke-width="0.35"/><circle cx="-4.0" cy="-4.0" r="2.1" fill="#b01c74"/><circle cx="-1.0" cy="-3.0" r="2.0" fill="#b01c74"/><circle cx="6.0" cy="-6.0" r="1.9" fill="#b01c74"/><circle cx="6.5" cy="-0.8" r="2.0" fill="#b01c74"/><circle cx="-4.8" cy="-4.6" r="0.8" fill="#f0c0e0"/></g>
<g transform="translate(373.6 392.6) rotate(-28.0) scale(1.040)"><path d="M-15.9,8 C-17,-4 -12,-14 0,-14 C12,-14 17,-4 15.9,8 C15.9,11 15,12.4 13.4,12.9 C8,14.4 -8,14.4 -13.4,12.9 C-15,12.4 -15.9,11 -15.9,8 Z" fill="url(#oc)" stroke="#2a4678" stroke-width="1.1"/><path d="M-12.50,12.82 L-11.60,7.22 L-10.70,12.82 Z M-9.60,13.29 L-8.70,7.69 L-7.80,13.29 Z M-6.70,13.63 L-5.80,8.03 L-4.90,13.63 Z M-3.80,13.83 L-2.90,8.23 L-2.00,13.83 Z M-0.90,13.90 L0.00,8.30 L0.90,13.90 Z M2.00,13.83 L2.90,8.23 L3.80,13.83 Z M4.90,13.63 L5.80,8.03 L6.70,13.63 Z M7.80,13.29 L8.70,7.69 L9.60,13.29 Z M10.70,12.82 L11.60,7.22 L12.50,12.82 Z " fill="#f4f6fa" stroke="#2a4678" stroke-width="0.35"/><circle cx="-6.0" cy="-1.0" r="2.1" fill="#b01c74"/><circle cx="-3.5" cy="-4.5" r="2.0" fill="#b01c74"/><circle cx="3.0" cy="-9.0" r="1.9" fill="#b01c74"/><circle cx="5.5" cy="-4.0" r="2.0" fill="#b01c74"/><circle cx="-6.8" cy="-1.6" r="0.8" fill="#f0c0e0"/></g>
</g>
</svg>
</body></html>
